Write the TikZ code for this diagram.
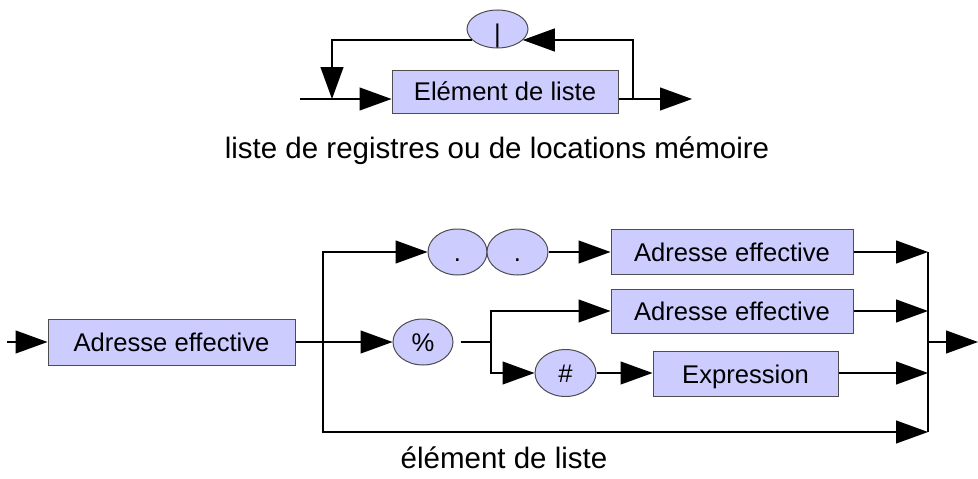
\documentclass[tikz,border=0pt]{standalone}
\usepackage{fontspec}
\setmainfont{Liberation Sans}
\usetikzlibrary{arrows.meta,shapes.geometric}
\definecolor{boxfill}{HTML}{CCCCFF}
\definecolor{boxline}{HTML}{4D4D4D}

\begin{document}
\begin{tikzpicture}[x=1pt,y=-1pt,
  lbl/.style={font=\fontsize{25.6}{30}\selectfont, inner sep=0pt, text height=18.3pt, text depth=0pt},
  ebox/.style={lbl, draw=boxline, fill=boxfill, line width=1pt, rectangle},
  eoval/.style={lbl, draw=boxline, fill=boxfill, line width=1pt, ellipse},
  wire/.style={line width=1.1pt},
  arr/.style={wire, -{Triangle[length=32pt,width=23pt]}},
  caption/.style={font=\fontsize{29.5}{34}\selectfont, anchor=base, inner sep=0pt}
]
\useasboundingbox (0,0) rectangle (978,479);

% ---- list of elements (top rule) ----
\node[ebox, minimum width=226pt, minimum height=43pt] (elem) at (505,91.5) {Elément de liste};
\node[eoval, minimum width=61pt, minimum height=38pt, text height=26.3pt] (bar) at (497.5,29) {|};

\coordinate (tin)    at (300,99);
\coordinate (tjoin)  at (332,99);
\coordinate (tsplit) at (633,99);
\coordinate (tout)   at (692,99);
\coordinate (tloopR) at (633,40);
\coordinate (tloopL) at (332,40);

\draw[wire] (tin) -- (tjoin);
\draw[arr] (tjoin) -- (tjoin -| elem.west);
\draw[wire] (elem.east |- tsplit) -- (tsplit);
\draw[arr] (tsplit) -- (tout);
\draw[arr] (tsplit) -- (tloopR) -- (tloopR -| bar.-24);
\draw[arr] (tloopL -| bar.-156) -- (tloopL) -- (tjoin);

\node[caption] (cap1) at (497,158) {liste de registres ou de locations mémoire};

% ---- list element (bottom rule) ----
\node[ebox, minimum width=247pt, minimum height=46pt] (ae1) at (171.5,342) {Adresse effective};
\node[eoval, minimum width=59pt, minimum height=46pt] (dotA) at (457.5,252) {.};
\node[eoval, minimum width=61pt, minimum height=46pt] (dotB) at (517.5,252) {.};
\node[ebox, minimum width=242pt, minimum height=45pt] (ae2) at (732,252) {Adresse effective};
\node[eoval, minimum width=60pt, minimum height=46pt] (pct) at (423,342) {\%};
\node[ebox, minimum width=242pt, minimum height=44pt] (ae3) at (732,311) {Adresse effective};
\node[eoval, minimum width=61pt, minimum height=47pt] (hash) at (565.5,373) {\#};
\node[ebox, minimum width=185pt, minimum height=45pt] (expr) at (745.5,374) {Expression};

\coordinate (bin)    at (7,342);
\coordinate (bsplit) at (323,342);
\coordinate (btop)   at (323,252);
\coordinate (bbot)   at (323,432);
\coordinate (ssplit) at (491,342);
\coordinate (stop)   at (491,311);
\coordinate (sbot)   at (491,373);
\coordinate (m1)     at (928,252);
\coordinate (m2)     at (928,311);
\coordinate (m3)     at (928,373);
\coordinate (m4)     at (928,432);
\coordinate (mout)   at (928,342);
\coordinate (bend)   at (978,342);

\draw[arr] (bin) -- (ae1);
\draw[wire] (ae1) -- (bsplit);
\draw[arr] (bsplit) -- (btop) -- (dotA);
\draw[arr] (dotB) -- (ae2);
\draw[arr] (ae2) -- (m1);
\draw[arr] (bsplit) -- (pct);
\draw[wire, shorten <=7pt] (pct) -- (ssplit);
\draw[arr] (ssplit) -- (stop) -- (ae3);
\draw[arr] (ae3) -- (m2);
\draw[arr] (ssplit) -- (sbot) -- (hash);
\draw[arr] (hash) -- (hash -| expr.west);
\draw[arr] (expr.east |- m3) -- (m3);
\draw[arr] (bsplit) -- (bbot) -- (m4);
\draw[wire] (m1) -- (m4);
\draw[arr] (mout) -- (bend);

\node[caption] (cap2) at (504,468) {élément de liste};
\end{tikzpicture}
\end{document}
